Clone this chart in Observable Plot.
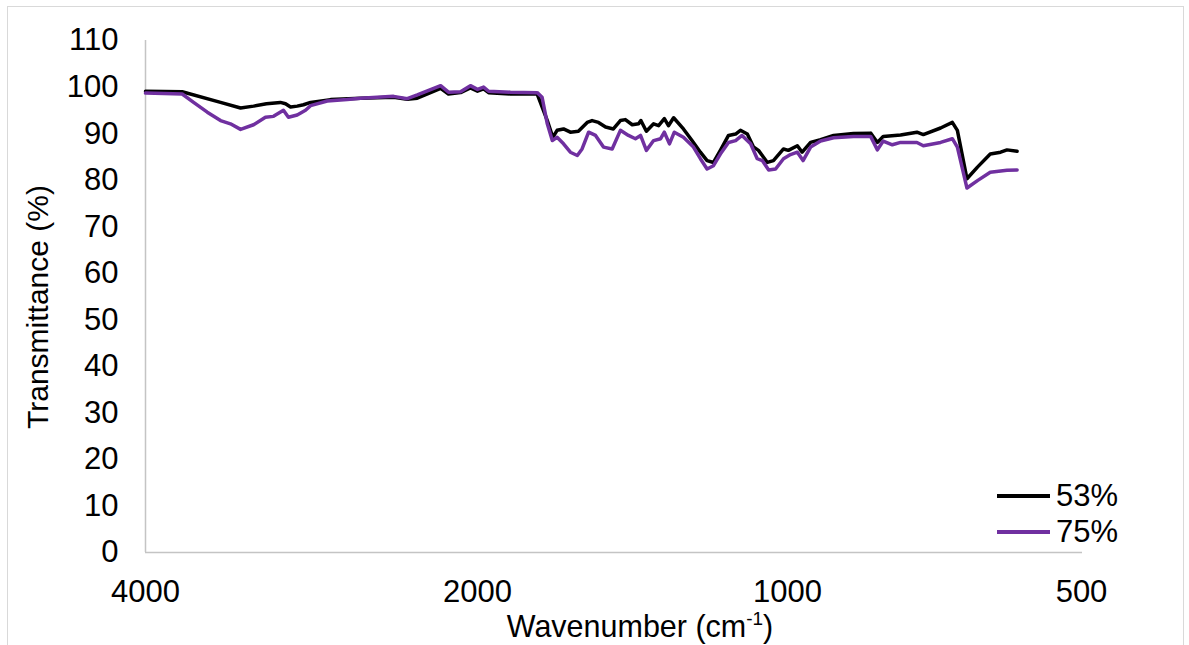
<!DOCTYPE html>
<html>
<head>
<meta charset="utf-8">
<script src="https://cdn.jsdelivr.net/npm/d3@7"></script>
<script src="https://cdn.jsdelivr.net/npm/@observablehq/plot@0.6"></script>
<style>
  html, body { margin: 0; padding: 0; background: #fff; }
  body { font-family: "Liberation Sans", Arial, sans-serif; color: #000; }
  #wrap { position: relative; width: 1189px; height: 645px; overflow: hidden; }
  #frame { position: absolute; left: 7px; top: 6px; width: 1177px; height: 700px; border: 1.5px solid #d9d9d9; box-sizing: border-box; }
  #chart { position: absolute; left: 0; top: 0; }
  .ytitle { position: absolute; left: 38px; top: 307px; transform: translate(-50%, -50%) rotate(-90deg); font-size: 30px; white-space: nowrap; line-height: 30px; }
  .xtitle { position: absolute; left: 640px; top: 611px; transform: translateX(-50%); font-size: 30.5px; white-space: nowrap; line-height: 30px; }
  .xtitle sup { font-size: 0.62em; vertical-align: 0.62em; line-height: 0; }
  .legend { position: absolute; left: 997px; top: 478px; font-size: 31px; }
  .legend .row { display: flex; align-items: center; height: 36px; line-height: 36px; }
  .legend .sw { width: 53px; height: 3.5px; margin-right: 6px; }
</style>
</head>
<body>
<div id="wrap">
  <div id="frame"></div>
  <div id="chart"></div>
  <div class="ytitle">Transmittance (%)</div>
  <div class="xtitle">Wavenumber (cm<sup>-1</sup>)</div>
  <div class="legend" id="legend"></div>
</div>
<script>
// ---- data ----
const seriesNames = ["53%", "75%"];
const seriesColors = ["#000000", "#7030A0"];

const wn53 = [4000,3705,3420,3280,3192,3107,3018,2986,2955,2914,2876,2834,2718,2553,2383,2316,2268,2160,2125,2072,2030,2000,1973,1951,1858,1750,1711,1690,1674,1650,1625,1596,1565,1548,1526,1502,1476,1453,1437,1415,1395,1388,1371,1349,1334,1317,1305,1290,1262,1238,1215,1197,1180,1162,1141,1123,1111,1094,1079,1067,1046,1032,1009,998,977,966,947,925,897,856,822,809,798,766,737,726,697,678,670,655,639,620,605,596,582];
const t53 = [99.1,99.0,96.7,95.5,95.9,96.4,96.7,96.4,95.7,95.9,96.2,96.7,97.3,97.6,97.8,97.4,97.6,99.7,98.5,98.8,99.8,99.1,99.6,98.8,98.5,98.5,92.8,89.2,90.7,91.0,90.3,90.5,92.4,92.8,92.4,91.4,91.0,92.8,93.0,91.9,92.1,92.8,90.5,92.1,91.7,93.2,91.7,93.4,91.0,88.5,86.0,84.2,83.8,86.4,89.6,89.9,90.7,89.9,87.1,86.4,83.8,84.2,86.7,86.4,87.4,86.0,88.1,88.7,89.6,90.0,90.1,88.1,89.4,89.7,90.3,89.8,91.2,92.4,90.7,80.3,82.8,85.6,86.0,86.5,86.2];

const wn75 = [4000,3705,3618,3516,3420,3350,3280,3192,3114,3062,2999,2968,2914,2864,2834,2737,2625,2553,2383,2316,2268,2160,2125,2072,2030,2000,1973,1951,1858,1750,1731,1711,1692,1674,1650,1625,1600,1583,1560,1536,1509,1480,1453,1427,1405,1389,1371,1349,1328,1317,1302,1288,1262,1234,1215,1197,1180,1162,1141,1123,1107,1086,1070,1058,1043,1027,1009,993,977,964,947,925,897,856,822,809,798,781,766,737,726,697,678,670,655,639,620,596,582];
const t75 = [98.7,98.5,96.7,94.6,92.8,92.1,90.9,91.9,93.5,93.7,95.0,93.5,94.0,95.0,96.0,97.0,97.3,97.6,98.0,97.5,98.3,100.3,98.9,99.0,100.3,99.5,100.0,99.1,98.9,98.8,97.8,92.1,88.5,89.2,87.8,86.0,85.3,86.7,90.3,89.6,87.1,86.7,90.7,89.6,88.9,89.6,86.4,88.5,88.9,90.3,87.8,90.3,89.2,87.1,84.6,82.4,83.1,85.6,88.1,88.5,89.6,87.8,84.6,84.2,82.2,82.4,84.6,85.5,86.0,84.2,87.1,88.4,89.1,89.4,89.4,86.5,88.4,87.6,88.1,88.1,87.4,88.1,88.9,87.1,78.3,79.9,81.7,82.1,82.2];

const xTicks = [4000, 2000, 1000, 500];
const yTicks = [0, 10, 20, 30, 40, 50, 60, 70, 80, 90, 100, 110];

// ---- build table ----
const rows = [
  ...wn53.map((w, i) => ({series: seriesNames[0], wn: w, t: t53[i]})),
  ...wn75.map((w, i) => ({series: seriesNames[1], wn: w, t: t75[i]}))
];

const axisGray = "#c4c4c4";

const chart = Plot.plot({
  width: 1189,
  height: 645,
  marginLeft: 145,
  marginRight: 107,
  marginTop: 40,
  marginBottom: 93,
  style: {fontFamily: "'Liberation Sans', Arial, sans-serif", fontSize: "31px", color: "#000", background: "transparent", overflow: "visible"},
  x: {type: "log", domain: xTicks, range: [145, 477, 787, 1081]},
  y: {domain: [0, 110]},
  color: {domain: seriesNames, range: seriesColors},
  marks: [
    Plot.ruleY([0], {stroke: axisGray, strokeWidth: 1.5}),
    Plot.ruleX([xTicks[0]], {stroke: axisGray, strokeWidth: 1.5}),
    Plot.axisX({ticks: xTicks, tickSize: 0, tickPadding: 27, tickFormat: d => String(d), label: null, fontSize: 31}),
    Plot.axisY({ticks: yTicks, tickSize: 0, tickPadding: 27, tickFormat: d => String(d), label: null, fontSize: 31}),
    Plot.line(rows, {x: "wn", y: "t", z: "series", stroke: "series", strokeWidth: 3.5, strokeLinejoin: "round", strokeLinecap: "round"})
  ]
});
document.getElementById("chart").appendChild(chart);

// ---- legend ----
const legend = document.getElementById("legend");
seriesNames.forEach((name, i) => {
  const row = document.createElement("div");
  row.className = "row";
  const sw = document.createElement("div");
  sw.className = "sw";
  sw.style.background = seriesColors[i];
  const label = document.createElement("span");
  label.textContent = name;
  row.appendChild(sw);
  row.appendChild(label);
  legend.appendChild(row);
});
</script>
</body>
</html>
